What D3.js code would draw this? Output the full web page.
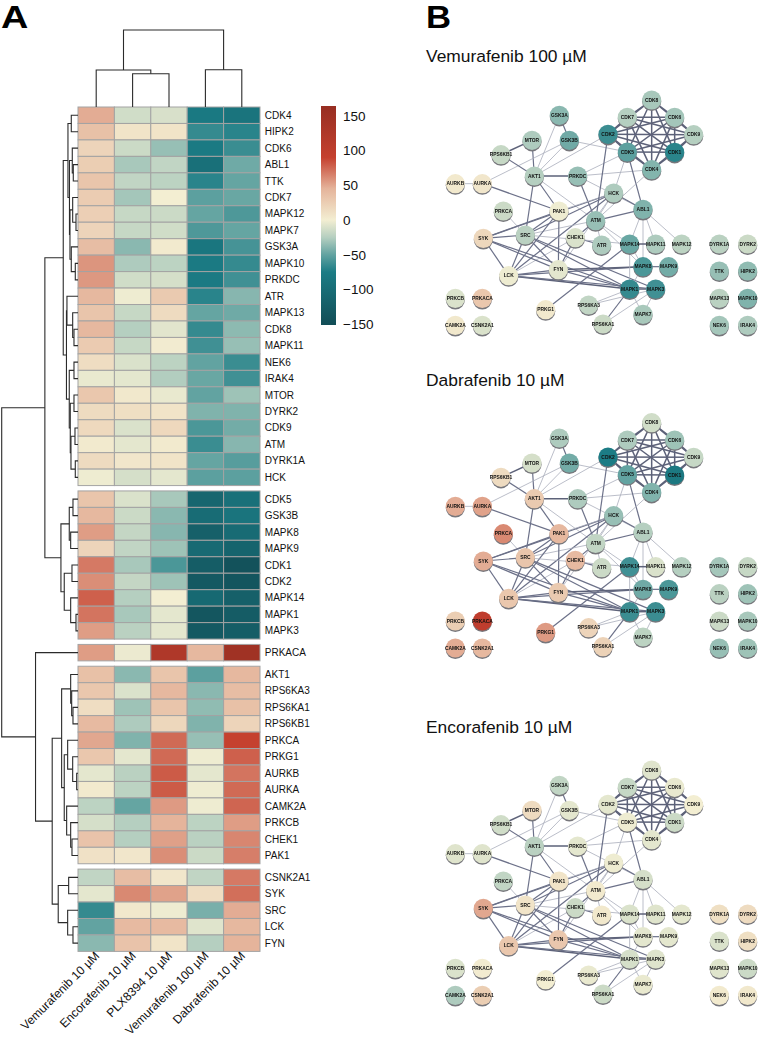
<!DOCTYPE html>
<html><head><meta charset="utf-8">
<script src="https://cdnjs.cloudflare.com/ajax/libs/d3/7.8.5/d3.min.js"></script>
<style>html,body{margin:0;padding:0;background:#fff}svg{display:block}text{font-family:"Liberation Sans",Arial,sans-serif}</style>
</head><body><div id="c"></div>
<script>
const drugs = ["Vemurafenib 10 µM","Encorafenib 10 µM","PLX8394 10 µM","Vemurafenib 100 µM","Dabrafenib 10 µM"];
const rowGroups = [
 ["CDK4","HIPK2","CDK6","ABL1","TTK","CDK7","MAPK12","MAPK7","GSK3A","MAPK10","PRKDC","ATR","MAPK13","CDK8","MAPK11","NEK6","IRAK4","MTOR","DYRK2","CDK9","ATM","DYRK1A","HCK"],
 ["CDK5","GSK3B","MAPK8","MAPK9","CDK1","CDK2","MAPK14","MAPK1","MAPK3"],
 ["PRKACA"],
 ["AKT1","RPS6KA3","RPS6KA1","RPS6KB1","PRKCA","PRKG1","AURKB","AURKA","CAMK2A","PRKCB","CHEK1","PAK1"],
 ["CSNK2A1","SYK","SRC","LCK","FYN"]
];
const heatValues = [
 [48,-14,-11,-80,-88],[35,8,8,-66,-70],[20,-16,-34,-78,-64],[25,-29,-20,-95,-46],[32,-20,-22,-70,-49],
 [26,-30,0,-52,-48],[24,-18,-16,-49,-57],[20,-18,-14,-57,-49],[38,-38,3,-85,-60],[57,-27,-22,-78,-66],
 [56,-14,-12,-78,-62],[42,-2,28,-70,-39],[32,-18,15,-49,-46],[42,-25,-7,-66,-37],[27,-18,2,-62,-34],
 [13,-10,-22,-50,-64],[-4,-6,-26,-48,-62],[30,5,-4,-50,-32],[15,12,8,-41,-41],[16,-10,17,-58,-45],
 [3,-6,3,-64,-39],[15,6,8,-49,-54],[-2,-12,-6,-52,-52],
 [32,-10,-29,-112,-96],[42,-16,-38,-102,-88],[54,-19,-39,-122,-104],[20,-20,-32,-106,-116],[68,-29,-58,-128,-146],
 [60,-19,-32,-134,-142],[78,-25,0,-108,-122],[70,-29,-6,-140,-130],[54,-23,-6,-134,-128],
 [54,-3,125,42,150],
 [35,-38,32,-52,42],[30,-10,42,-38,38],[13,-32,32,-36,35],[40,-27,18,-41,20],[50,-41,74,-34,90],
 [30,-6,74,-2,78],[-6,-23,80,-6,70],[3,-22,80,-2,74],[-22,-49,55,-2,76],[-12,-25,45,-22,54],[33,-25,53,-23,63],[10,6,60,-16,66],
 [-20,38,6,-20,68],[-6,62,52,13,72],[-66,5,-2,-43,48],[-50,40,40,-8,42],[-38,33,8,-25,45]
];
const colorStops = [-155,-75,-50,-25,0,45,90,164];
const colorRange = ["#124d56","#1b7c85","#62a3a1","#b5cfc0","#f3eed2","#e5b49b","#c5412f","#972e22"];
const colorTicks = [150,100,50,0,-50,-100,-150];
// dendrograms: [height, left, right]
const colTree = [77,[37,"Vemurafenib 10 µM",[33.3,"Encorafenib 10 µM","PLX8394 10 µM"]],[37.3,"Vemurafenib 100 µM","Dabrafenib 10 µM"]];
const rowTree = [76,
 [33,
  [14.7,
   [10,[6.7,"CDK4","HIPK2"],[8.5,[5.7,"CDK6",[4.7,"ABL1","TTK"]],[8,[5.3,"CDK7",[2,"MAPK12","MAPK7"]],[6.7,"GSK3A",[2.7,"MAPK10","PRKDC"]]]]],
   [11.5,[11,"ATR",[5.3,"MAPK13",[4,"CDK8","MAPK11"]]],[8.7,[4,"NEK6","IRAK4"],[7.7,[4,"MTOR","DYRK2"],[7,[3,"CDK9","ATM"],[2.7,"DYRK1A","HCK"]]]]]],
  [17,
   [8.7,[5,"CDK5","GSK3B"],[7.3,"MAPK8","MAPK9"]],
   [13.7,[6,"CDK1","CDK2"],[7.3,"MAPK14",[2,"MAPK1","MAPK3"]]]]],
 [42.3,"PRKACA",
  [25.7,
   [16.3,
    [7.3,"AKT1",[6.3,"RPS6KA3",[5,"RPS6KA1","RPS6KB1"]]],
    [13.7,[10.3,"PRKCA",[5.3,"PRKG1",[1.3,"AURKB","AURKA"]]],[11.3,"CAMK2A",[7.3,"PRKCB",[6,"CHEK1","PAK1"]]]]],
   [19.7,[9.3,"CSNK2A1","SYK"],[10.3,"SRC",[5,"LCK","FYN"]]]]]];
// network
const nodeNames = ["CDK8","CDK7","CDK6","CDK9","CDK2","CDK5","CDK1","CDK4","GSK3A","MTOR","GSK3B","RPS6KB1","AKT1","PRKDC","AURKB","AURKA","HCK","ABL1","PAK1","PRKCA","ATM","SRC","SYK","CHEK1","ATR","MAPK14","MAPK11","MAPK12","FYN","LCK","MAPK8","MAPK9","MAPK1","MAPK3","RPS6KA3","RPS6KA1","MAPK7","PRKG1","PRKCB","PRKACA","CAMK2A","CSNK2A1","DYRK1A","DYRK2","TTK","HIPK2","MAPK13","MAPK10","NEK6","IRAK4"];
const nodeX = [665,592,734,791,534,592,734,665,388,306,418,213,313,443,76,157,551,639,387,220,497,286,160,436,515,599,677,755,385,236,639,716,599,677,476,519,639,347,76,157,76,157,868,953,868,953,868,953,868,953];
const nodeY = [90,142,142,194,193,246,247,299,136,211,211,254,318,318,341,341,369,418,423,423,452,495,505,503,525,522,522,522,599,617,590,590,657,657,705,762,733,719,685,685,766,766,522,522,603,603,685,685,766,766];
const nodeVem100 = [-29,-25,-30,-25,-64,-52,-70,-40,-38,-27,-46,-18,-25,-34,4,6,-27,-41,-2,-16,-34,-23,18,-10,-27,-48,-27,-22,-6,-2,-58,-45,-66,-62,-20,-16,-29,4,-10,30,5,-10,-23,-16,-34,-36,-23,-41,-30,-27];
const nodeDab10 = [-14,-27,-32,-18,-75,-50,-82,-41,-27,-12,-45,15,28,-27,48,52,-34,-25,42,62,-20,32,48,40,-16,-62,-10,-25,28,30,-46,-58,-64,-64,20,22,-22,55,25,100,48,42,-30,-18,-23,-32,-16,-29,-34,-32];
const nodeEnco10 = [-8,-18,-4,0,-6,-2,-16,-6,-20,15,-6,-14,-23,-6,-8,-8,-2,-12,8,-20,3,8,50,-16,5,-10,-8,-6,30,30,-6,-6,-12,-8,-4,-16,-4,0,-10,2,-27,25,12,15,-10,12,-8,-16,3,5];
const cliqueNames = ["CDK1","CDK2","CDK4","CDK5","CDK6","CDK7","CDK8","CDK9"];
const edgeList = [
["GSK3A","AKT1",1],["GSK3A","GSK3B",2],["MTOR","RPS6KB1",3],["MTOR","AKT1",2],["GSK3B","AKT1",1],["GSK3B","AURKA",1],["GSK3B","CDK5",1],
["RPS6KB1","AKT1",2],["AKT1","PRKDC",3],["AKT1","CDK2",1],["AKT1","PAK1",2],["AKT1","SRC",2],["AKT1","ATM",1],
["PRKDC","CDK4",1],["PRKDC","CDK5",1],["PRKDC","ATM",2],["PRKDC","ABL1",1],["AURKB","AURKA",1],["AURKA","PAK1",2],
["HCK","ABL1",2],["HCK","ATM",1],["HCK","SRC",2],["HCK","SYK",2],["HCK","PAK1",1],["HCK","LCK",2],["HCK","CDK5",1],["HCK","FYN",1],
["ABL1","CDK5",2],["ABL1","ATM",2],["ABL1","MAPK14",1],["ABL1","MAPK11",1],["ABL1","MAPK12",1],["ABL1","MAPK8",1],
["ATM","CHEK1",2],["ATM","ATR",1],["ATM","MAPK14",1],["ATM","CDK2",2],["ATM","CDK4",1],["ATM","MAPK8",1],["ATM","SRC",1],
["CHEK1","ATR",2],["CHEK1","FYN",2],["CHEK1","LCK",1],["PRKCA","SRC",1],
["PAK1","SRC",2],["PAK1","SYK",2],["PAK1","LCK",2],["PAK1","FYN",2],
["SRC","SYK",2],["SRC","LCK",2],["SRC","FYN",2],["SRC","MAPK1",2],["SRC","MAPK3",2],["SRC","MAPK14",1],
["SYK","LCK",2],["SYK","FYN",2],["SYK","MAPK1",2],["LCK","FYN",2],["LCK","MAPK1",3],["LCK","MAPK8",2],["LCK","MAPK3",2],
["FYN","MAPK8",3],["FYN","MAPK1",2],["MAPK14","MAPK11",3],["MAPK14","MAPK8",1],["MAPK14","PRKG1",2],["MAPK14","MAPK1",1],
["MAPK8","MAPK9",2],["MAPK8","MAPK1",1],["MAPK1","MAPK3",3],["MAPK1","RPS6KA3",1],["MAPK1","RPS6KA1",2],["MAPK1","MAPK7",1],
["MAPK3","RPS6KA3",1],["MAPK3","RPS6KA1",1],["MAPK3","MAPK7",1]
];
const panels = [
 {title:"Vemurafenib 100 µM",titleY:62,top:70,dy:0,vals:nodeVem100},
 {title:"Dabrafenib 10 µM",titleY:386,top:400,dy:-22,vals:nodeDab10},
 {title:"Encorafenib 10 µM",titleY:733,top:740,dy:0,vals:nodeEnco10}
];

const W=759,H=1038;
const svg=d3.select("#c").append("svg").attr("width",W).attr("height",H);
const color=d3.scaleLinear().domain(colorStops).range(colorRange).clamp(true);
const defs=svg.append("defs");
defs.append("filter").attr("id","soft").attr("x","-2%").attr("y","-2%").attr("width","104%").attr("height","104%")
  .append("feGaussianBlur").attr("stdDeviation",0.35);

svg.append("text").attr("transform","translate(1,28) scale(1.22,1)").attr("font-size",31).attr("font-weight","bold").text("A");
svg.append("text").attr("transform","translate(426,28) scale(1.12,1)").attr("font-size",31).attr("font-weight","bold").text("B");

// heatmap
const hmLeft=78,hmRight=260,hmTop=107,rowH=16.46,gap=5.35;
const cx=d3.scaleBand().domain(drugs).range([hmLeft,hmRight]);
const flatRows=[];
rowGroups.forEach((g,gi)=>g.forEach(n=>flatRows.push({name:n,group:gi})));
const rowIdx=d3.scaleLinear().domain([0,50]).range([hmTop,hmTop+50*rowH]);
const rowTop=(d,i)=>rowIdx(i)+d.group*gap;
const rowCenter=new Map(flatRows.map((d,i)=>[d.name,rowTop(d,i)+rowH/2]));
const g=svg.append("g");
flatRows.forEach((r,i)=>{
  g.selectAll(null).data(heatValues[i]).enter().append("rect")
   .attr("x",(v,j)=>cx(drugs[j])).attr("y",rowTop(r,i)).attr("width",cx.bandwidth()).attr("height",rowH)
   .attr("fill",v=>color(v)).attr("stroke","#a3a3a3").attr("stroke-width",1);
  g.append("text").attr("x",264.8).attr("y",rowTop(r,i)+rowH/2+3.5).attr("font-size",10).attr("fill","#111").text(r.name);
});
drugs.forEach(d=>{
  const x=cx(d)+cx.bandwidth()/2+4, y=956.5;
  g.append("text").attr("transform",`translate(${x},${y}) rotate(-45)`).attr("text-anchor","end").attr("font-size",12.1).attr("fill","#111").text(d);
});

// dendrograms
function drawTree(tree,horizontalLeaves){
  const sel=svg.append("g").attr("fill","none").attr("stroke","#2b2b2b").attr("stroke-width",1.1);
  const hs=horizontalLeaves?d3.scaleLinear().domain([0,77]).range([hmTop,30]):d3.scaleLinear().domain([0,76]).range([hmLeft,1.7]);
  const leaf=n=>horizontalLeaves?cx(n)+cx.bandwidth()/2:rowCenter.get(n);
  function rec(t){
    if(typeof t==="string")return {p:leaf(t),h:0};
    const a=rec(t[1]),b=rec(t[2]),H=hs(t[0]);
    const p=d3.path();
    if(horizontalLeaves){p.moveTo(a.p,hs(a.h));p.lineTo(a.p,H);p.lineTo(b.p,H);p.lineTo(b.p,hs(b.h));}
    else{p.moveTo(hs(a.h),a.p);p.lineTo(H,a.p);p.lineTo(H,b.p);p.lineTo(hs(b.h),b.p);}
    sel.append("path").attr("d",p.toString());
    return {p:(a.p+b.p)/2,h:t[0]};
  }
  rec(tree);
}
drawTree(colTree,true);
drawTree(rowTree,false);

// colorbar
const barTop=106,barBot=325,barX=321,barW=15;
const barScale=d3.scaleLinear().domain([-150,150]).range([324.2,115.8]);
const lg=defs.append("linearGradient").attr("id","cb").attr("x1",0).attr("x2",0).attr("y1",0).attr("y2",1);
colorStops.slice().reverse().forEach(v=>{
  lg.append("stop").attr("offset",Math.max(0,Math.min(1,(barScale(v)-barTop)/(barBot-barTop)))).attr("stop-color",color(v));
});
svg.append("rect").attr("x",barX).attr("y",barTop).attr("width",barW).attr("height",barBot-barTop).attr("fill","url(#cb)");
const ax=svg.append("g").attr("transform",`translate(${barX+barW},0)`).call(d3.axisRight(barScale).tickValues(colorTicks).tickSize(0).tickPadding(7).tickFormat(d=>String(d).replace("-","\u2212")));
ax.select(".domain").remove();
ax.selectAll("text").attr("font-size",13.5).attr("fill","#111").attr("font-family",'"Liberation Sans",Arial,sans-serif');

// network panels
const nx=d3.scaleLinear().domain([0,987]).range([430,759]);
const idx=new Map(nodeNames.map((n,i)=>[n,i]));
const cliqueEdges=[];
cliqueNames.forEach((a,i)=>cliqueNames.slice(i+1).forEach(b=>cliqueEdges.push([a,b,3])));
const allEdges=edgeList.concat(cliqueEdges);
const edgeColor=d3.scaleOrdinal().domain([1,2,3]).range(["#aaadbb","#6c7189","#5d6279"]);
const edgeWidth=d3.scaleOrdinal().domain([1,2,3]).range([0.8,1.2,1.5]);
panels.forEach(pn=>{
  svg.append("text").attr("x",426).attr("y",pn.titleY).attr("font-size",17.4).attr("fill","#111").text(pn.title);
  const ny=d3.scaleLinear().domain([0,290]).range([pn.top+pn.dy/3,pn.top+pn.dy/3+96.67]);
  const gp=svg.append("g").attr("filter","url(#soft)");
  gp.selectAll("line").data(allEdges).enter().append("line")
    .attr("x1",d=>nx(nodeX[idx.get(d[0])])).attr("y1",d=>ny(nodeY[idx.get(d[0])]))
    .attr("x2",d=>nx(nodeX[idx.get(d[1])])).attr("y2",d=>ny(nodeY[idx.get(d[1])]))
    .attr("stroke",d=>edgeColor(d[2])).attr("stroke-width",d=>edgeWidth(d[2]));
  const nodes=gp.selectAll("g.n").data(nodeNames).enter().append("g")
    .attr("transform",(d,i)=>`translate(${nx(nodeX[i])},${ny(nodeY[i])})`);
  nodes.append("circle").attr("cy",1.5).attr("r",9.6).attr("fill","#77777c");
  nodes.append("circle").attr("r",9.6).attr("fill",(d,i)=>color(pn.vals[i]));
  nodes.append("text").attr("text-anchor","middle").attr("y",1.7).attr("font-size",4.9).attr("font-weight","bold").attr("fill","#111").text(d=>d);
});
</script></body></html>
